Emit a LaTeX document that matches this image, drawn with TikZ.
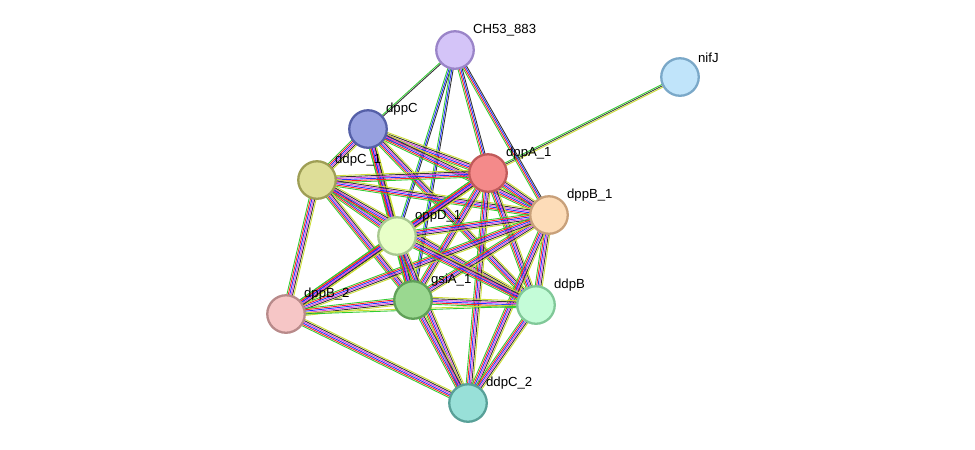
\documentclass[tikz,border=0pt]{standalone}
\usepackage{fontspec}
\setmainfont{Liberation Sans}
\usetikzlibrary{calc}
\definecolor{eg}{HTML}{33CC33}
\definecolor{er}{HTML}{FF2222}
\definecolor{eb}{HTML}{2233FF}
\definecolor{ek}{HTML}{333333}
\definecolor{ey}{HTML}{CCDD33}
\definecolor{em}{HTML}{DD44DD}
\tikzset{
  prot/.style={circle, draw, line width=1.3pt, minimum size=37.5\pxu, inner sep=0pt},
  lbl/.style={font=\fontsize{7.5}{9}\selectfont, anchor=south west, inner sep=1pt},
  strand/.style={line width=0.5pt}
}
\newlength{\pxu}\setlength{\pxu}{0.2mm}
% multi-coloured edge: from, to, colours, centre index
\newcommand{\edge}[4]{%
  \foreach \c [count=\i] in {#3} {
    \pgfmathsetmacro{\off}{(\i-#4)*0.8}
    \draw[strand, \c] ($(#1)!\off pt!90:(#2)$) -- ($(#2)!\off pt!-90:(#1)$);
  }}
\begin{document}
\begin{tikzpicture}[x=0.2mm, y=-0.2mm]
  \useasboundingbox (0,0) rectangle (975,449);

  % --- positions ---
  \coordinate (ch) at (455,50);
  \coordinate (nj) at (680,77);
  \coordinate (dc) at (368,129);
  \coordinate (c1) at (317,180);
  \coordinate (a1) at (488,173);
  \coordinate (b1) at (549,215);
  \coordinate (od) at (397,236);
  \coordinate (gs) at (413,300);
  \coordinate (db) at (536,305);
  \coordinate (b2) at (286,314);
  \coordinate (c2) at (468,403);

  % --- edges ---
  \edge{a1}{nj}{ey,ek,eg}{2}
  \edge{ch}{dc}{eg,ek}{1.5}
  \foreach \t in {a1,b1}{\edge{ch}{\t}{eg,er,eb,ek}{2.5}}
  \foreach \t in {od,gs}{\edge{ch}{\t}{eg,eb,ek}{2}}
  \foreach \s/\t in {dc/c1,dc/a1,dc/b1,dc/od,dc/gs,dc/db,
                     c1/a1,c1/b1,c1/od,c1/gs,c1/db,c1/b2,
                     a1/b1,a1/od,a1/gs,a1/db,a1/c2,a1/b2,
                     b1/od,b1/gs,b1/db,b1/c2,b1/b2,
                     od/gs,od/db,od/b2,od/c2,
                     gs/db,gs/b2,gs/c2,
                     db/c2,b2/c2}
    {\edge{\s}{\t}{eg,er,eb,em,ek,ey}{3.5}}
  \edge{b2}{db}{eg,ey}{1.5}

  % --- proteins ---
  \node[prot, draw={rgb,255:red,154;green,132;blue,200}, fill={rgb,255:red,212;green,196;blue,248}] (CH53) at (ch) {};
  \node[prot, draw={rgb,255:red,122;green,168;blue,200}, fill={rgb,255:red,192;green,228;blue,250}] (nifJ) at (nj) {};
  \node[prot, draw={rgb,255:red,85;green,96;blue,168}, fill={rgb,255:red,151;green,160;blue,224}] (dppC) at (dc) {};
  \node[prot, draw={rgb,255:red,158;green,158;blue,85}, fill={rgb,255:red,222;green,222;blue,152}] (ddpC1) at (c1) {};
  \node[prot, draw={rgb,255:red,192;green,90;blue,90}, fill={rgb,255:red,244;green,138;blue,138}] (dppA1) at (a1) {};
  \node[prot, draw={rgb,255:red,200;green,160;blue,122}, fill={rgb,255:red,253;green,220;blue,184}] (dppB1) at (b1) {};
  \node[prot, draw={rgb,255:red,168;green,200;blue,144}, fill={rgb,255:red,232;green,255;blue,200}] (oppD1) at (od) {};
  \node[prot, draw={rgb,255:red,96;green,160;blue,88}, fill={rgb,255:red,154;green,216;blue,144}] (gsiA1) at (gs) {};
  \node[prot, draw={rgb,255:red,128;green,200;blue,152}, fill={rgb,255:red,196;green,252;blue,216}] (ddpB) at (db) {};
  \node[prot, draw={rgb,255:red,184;green,138;blue,138}, fill={rgb,255:red,246;green,198;blue,198}] (dppB2) at (b2) {};
  \node[prot, draw={rgb,255:red,88;green,160;blue,152}, fill={rgb,255:red,152;green,224;blue,216}] (ddpC2) at (c2) {};

  % --- labels ---
  \node[lbl] at ($(ch)+(16,-12)$) {CH53\_883};
  \node[lbl] at ($(nj)+(16,-12)$) {nifJ};
  \node[lbl] at ($(dc)+(16,-12)$) {dppC};
  \node[lbl] at ($(c1)+(16,-12)$) {ddpC\_1};
  \node[lbl] at ($(a1)+(16,-12)$) {dppA\_1};
  \node[lbl] at ($(b1)+(16,-12)$) {dppB\_1};
  \node[lbl] at ($(od)+(16,-12)$) {oppD\_1};
  \node[lbl] at ($(gs)+(16,-12)$) {gsiA\_1};
  \node[lbl] at ($(db)+(16,-12)$) {ddpB};
  \node[lbl] at ($(b2)+(16,-12)$) {dppB\_2};
  \node[lbl] at ($(c2)+(16,-12)$) {ddpC\_2};
\end{tikzpicture}
\end{document}
